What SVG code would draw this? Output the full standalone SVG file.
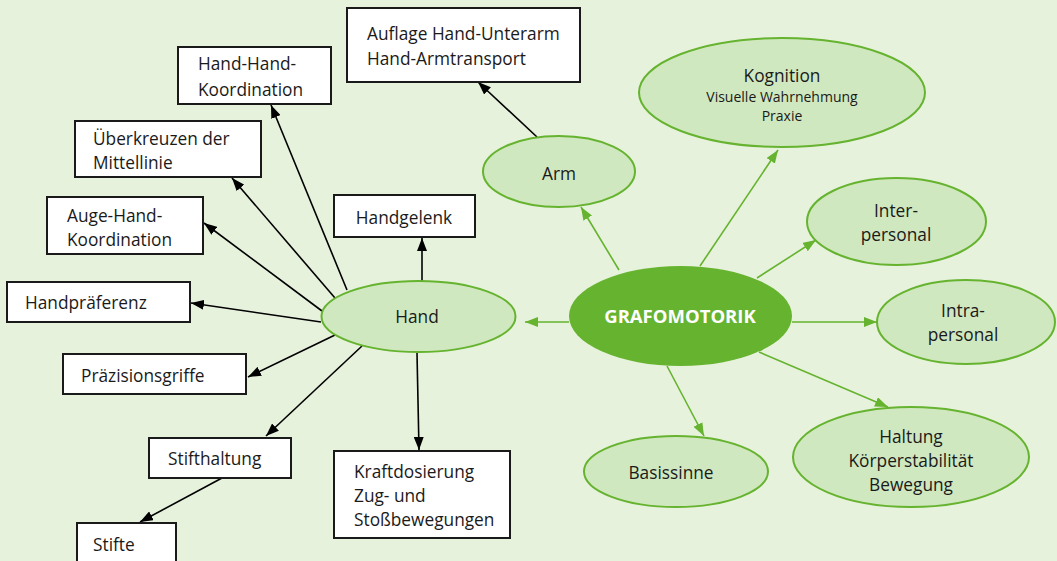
<svg xmlns="http://www.w3.org/2000/svg" width="1057" height="561" viewBox="0 0 1057 561">
<style>
text{font-family:"Open Sans","Noto Sans","DejaVu Sans",sans-serif;font-size:17.3px;fill:#1a1a1a}
.box{fill:#fff;stroke:#1a1a1a;stroke-width:2}
.ell{fill:#d0e8c0;stroke:#65b32e;stroke-width:2}
.k{stroke:#000;stroke-width:1.6;fill:none}
.g{stroke:#65b32e;stroke-width:1.6;fill:none}
.c{text-anchor:middle}
.small{font-size:14px}
</style>
<defs>
<marker id="ab" markerUnits="userSpaceOnUse" markerWidth="14" markerHeight="10" refX="13" refY="5" orient="auto"><path d="M0,0 L13,5 L0,10 z" fill="#000"/></marker>
<marker id="ag" markerUnits="userSpaceOnUse" markerWidth="14" markerHeight="10" refX="13" refY="5" orient="auto"><path d="M0,0 L13,5 L0,10 z" fill="#65b32e"/></marker>
</defs>
<rect width="1057" height="561" fill="#e7f2dd"/>
<g id="connectors">
<line class="g" x1="569" y1="322" x2="525" y2="322" marker-end="url(#ag)"/>
<line class="g" x1="619" y1="270" x2="581" y2="207" marker-end="url(#ag)"/>
<line class="g" x1="700" y1="266" x2="778" y2="150" marker-end="url(#ag)"/>
<line class="g" x1="757" y1="278" x2="816" y2="240" marker-end="url(#ag)"/>
<line class="g" x1="792" y1="322" x2="877" y2="322" marker-end="url(#ag)"/>
<line class="g" x1="667" y1="366" x2="704" y2="436" marker-end="url(#ag)"/>
<line class="g" x1="759" y1="352" x2="888" y2="407" marker-end="url(#ag)"/>
<line class="k" x1="537" y1="137" x2="478" y2="82" marker-end="url(#ab)"/>
<line class="k" x1="422" y1="281" x2="422" y2="238" marker-end="url(#ab)"/>
<line class="k" x1="347" y1="290" x2="271" y2="105" marker-end="url(#ab)"/>
<line class="k" x1="335" y1="298" x2="232" y2="178" marker-end="url(#ab)"/>
<line class="k" x1="322" y1="311" x2="204" y2="223" marker-end="url(#ab)"/>
<line class="k" x1="321" y1="322" x2="191" y2="303" marker-end="url(#ab)"/>
<line class="k" x1="335" y1="335" x2="248" y2="377" marker-end="url(#ab)"/>
<line class="k" x1="362" y1="346" x2="266" y2="436" marker-end="url(#ab)"/>
<line class="k" x1="417" y1="353" x2="419" y2="450" marker-end="url(#ab)"/>
<line class="k" x1="222" y1="478" x2="140" y2="522" marker-end="url(#ab)"/>
</g>
<g id="auflage"><rect class="box" x="347" y="8" width="233" height="74"/><text x="367" y="40">Auflage Hand-Unterarm</text><text x="367" y="65">Hand-Armtransport</text></g>
<g id="handhand"><rect class="box" x="178" y="47" width="153" height="57"/><text x="198" y="70">Hand-Hand-</text><text x="198" y="96">Koordination</text></g>
<g id="ueberkreuzen"><rect class="box" x="75" y="121" width="186" height="56"/><text x="93" y="145">Überkreuzen der</text><text x="93" y="169">Mittellinie</text></g>
<g id="augehand"><rect class="box" x="47" y="197" width="156" height="57"/><text x="67" y="222">Auge-Hand-</text><text x="67" y="246">Koordination</text></g>
<g id="handgelenk"><rect class="box" x="334" y="195" width="141" height="42"/><text class="c" x="404" y="224">Handgelenk</text></g>
<g id="handpraeferenz"><rect class="box" x="7" y="282" width="183" height="40"/><text x="25" y="309">Handpräferenz</text></g>
<g id="praezisionsgriffe"><rect class="box" x="63" y="354" width="183" height="40"/><text x="81" y="382">Präzisionsgriffe</text></g>
<g id="stifthaltung"><rect class="box" x="149" y="438" width="142" height="40"/><text x="168" y="465">Stifthaltung</text></g>
<g id="stifte"><rect class="box" x="77" y="523" width="99" height="50"/><text x="93" y="551">Stifte</text></g>
<g id="kraftdosierung"><rect class="box" x="334" y="451" width="176" height="87"/><text x="354" y="478">Kraftdosierung</text><text x="354" y="502">Zug- und</text><text x="354" y="526">Stoßbewegungen</text></g>
<g id="hand"><ellipse class="ell" cx="418.5" cy="316.5" rx="97" ry="35.5"/><text class="c" x="417" y="323">Hand</text></g>
<g id="arm"><ellipse class="ell" cx="559" cy="171.5" rx="76" ry="35.5"/><text class="c" x="559" y="180">Arm</text></g>
<g id="kognition"><ellipse class="ell" cx="782" cy="92.5" rx="143" ry="54.5"/><text class="c" x="782" y="82">Kognition</text><text class="c small" x="782" y="102">Visuelle Wahrnehmung</text><text class="c small" x="782" y="121">Praxie</text></g>
<g id="inter"><ellipse class="ell" cx="896.5" cy="221.5" rx="89.5" ry="43.5"/><text class="c" x="896" y="217">Inter-</text><text class="c" x="896" y="241">personal</text></g>
<g id="grafomotorik"><ellipse cx="680.5" cy="316" rx="111.5" ry="50" fill="#65b32e"/><text class="c" x="680" y="323" style="fill:#fff;font-weight:bold;font-size:18.5px">GRAFOMOTORIK</text></g>
<g id="intra"><ellipse class="ell" cx="966" cy="322" rx="89" ry="42"/><text class="c" x="963" y="317">Intra-</text><text class="c" x="963" y="341">personal</text></g>
<g id="basissinne"><ellipse class="ell" cx="676" cy="471.5" rx="92" ry="35.5"/><text class="c" x="671" y="479">Basissinne</text></g>
<g id="haltung"><ellipse class="ell" cx="911" cy="457" rx="118" ry="50"/><text class="c" x="911" y="443">Haltung</text><text class="c" x="911" y="467">Körperstabilität</text><text class="c" x="911" y="491">Bewegung</text></g>
</svg>
